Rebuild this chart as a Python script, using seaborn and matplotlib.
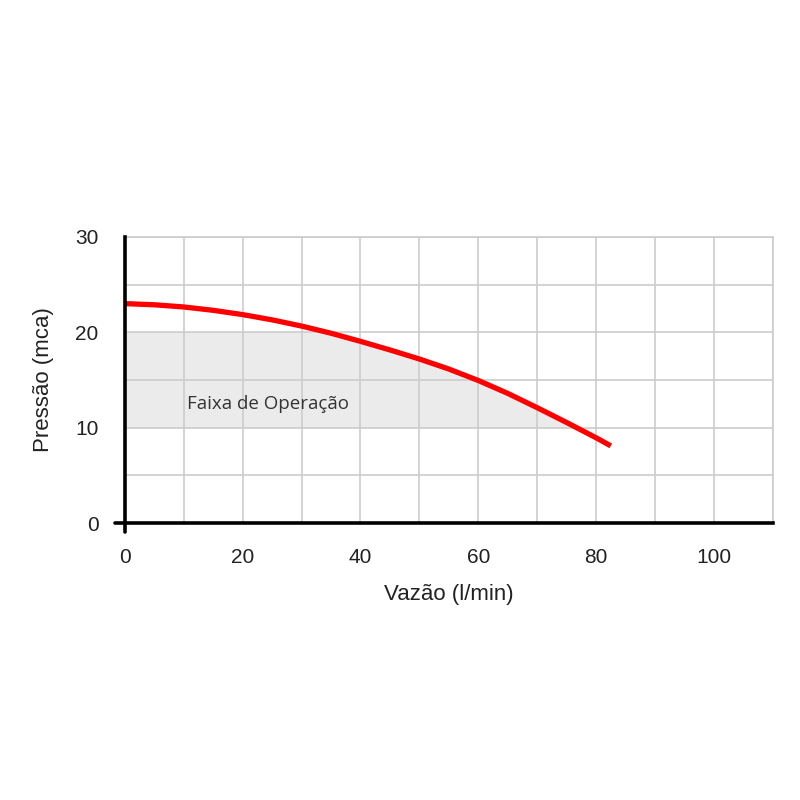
"""
Pump curve: pressure vs flow with the operating band shaded.
"""

import matplotlib
matplotlib.use('Agg')
import matplotlib.pyplot as plt
from matplotlib.ticker import MultipleLocator, FixedLocator
import numpy as np
import pandas as pd
import seaborn as sns

# Data
flow = [0, 5, 10, 15, 20, 25, 30, 35, 40, 45, 50, 55, 60, 65, 70, 75, 80, 82.5]
pressure = [23.0, 22.88, 22.65, 22.3, 21.85, 21.3, 20.65, 19.9, 19.05, 18.15,
            17.2, 16.15, 14.95, 13.6, 12.1, 10.55, 8.95, 8.1]
band_low = 10
band_high = 20
band_label = 'Faixa de Operação'

x_ticks = [0, 20, 40, 60, 80, 100]
y_ticks = [0, 10, 20, 30]

curve_df = pd.DataFrame({'flow': flow, 'pressure': pressure})

sns.set_style('white')
plt.rcParams['font.family'] = ['Liberation Sans', 'DejaVu Sans']

fig = plt.figure(figsize=(8, 8), dpi=100)
ax = fig.add_axes([0.156, 0.346, 0.81, 0.358])

# Shaded operating band, bounded above by the curve
p = np.array(pressure)
ax.fill_between(flow, band_low, np.minimum(p, band_high), where=p >= band_low,
                interpolate=True, color='#ebebeb', linewidth=0, zorder=0)

sns.lineplot(data=curve_df, x='flow', y='pressure', ax=ax, color='#ff0000',
             linewidth=3.8, solid_capstyle='butt', zorder=3)

ax.text(10.5, 12.5, band_label, fontsize=13.5, color='#333333',
        family=['Open Sans', 'DejaVu Sans'], va='center', ha='left', zorder=4)

ax.set_xlim(0, 110)
ax.set_ylim(0, 30)

# grid every 10 across, every 5 up; labels only on the major ticks
ax.xaxis.set_major_locator(FixedLocator(x_ticks))
ax.yaxis.set_major_locator(FixedLocator(y_ticks))
ax.xaxis.set_minor_locator(MultipleLocator(10))
ax.yaxis.set_minor_locator(MultipleLocator(5))
ax.grid(which='both', color='#cccccc', linewidth=1.2, zorder=1)
ax.set_axisbelow(True)

ax.tick_params(which='minor', length=0)
ax.tick_params(which='major', length=0, labelsize=15, colors='#222222')
ax.tick_params(axis='x', which='major', pad=18)
ax.tick_params(axis='y', which='major', pad=19)
# small cross at the origin
ax.plot([0, 0], [0, -0.9], color='black', lw=2.6, clip_on=False, zorder=5)
ax.plot([0, -1.6], [0, 0], color='black', lw=2.6, clip_on=False, zorder=5)

for side in ['left', 'bottom']:
    ax.spines[side].set_color('black')
    ax.spines[side].set_linewidth(2.6)
    ax.spines[side].set_zorder(5)
for side in ['top', 'right']:
    ax.spines[side].set_color('#cccccc')
    ax.spines[side].set_linewidth(1.2)

ax.set_xlabel('Vazão (l/min)', fontsize=16, color='#222222', labelpad=12)
ax.set_ylabel('Pressão (mca)', fontsize=16, color='#222222', labelpad=15)

fig.savefig('out.png', dpi=100, facecolor='white')
